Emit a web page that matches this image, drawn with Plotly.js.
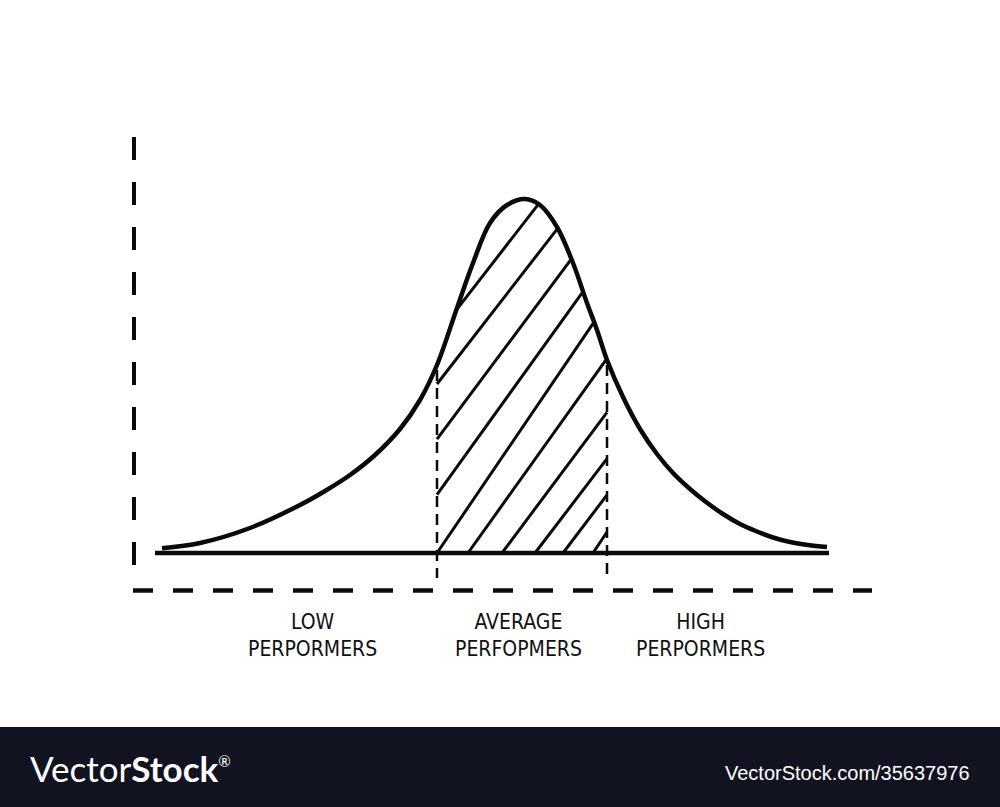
<!DOCTYPE html>
<html><head><meta charset="utf-8">
<script src="https://cdn.plot.ly/plotly-3.0.1.min.js"></script>
<style>html,body{margin:0;padding:0;background:#fff}#chart{width:1000px;height:807px}</style>
</head><body><div id="chart"></div>
<script>
// ---- Data (x: score units, y: height above the baseline) ----
const curveX = [162,200,250,300,325,350,375,400,420,437,457,473,490,507,525,540,557,573,587,597,607,623,640,657,673,690,706,723,740,757,773,790,808,827];
const curveY = [4.7,10,25,48,62,78,98,124,153,188,245,290,330,348,354,348,326,290,250,223,193,156,124,99,80,64,51,39,29,21.5,15.5,11,8,6];

// group boundaries (dashed dividers)
const dividerX = [437, 607];

// hatch lines in the average group: where each would meet the baseline, and its slope
const hatchBaseX = [268,306,352,395,437,468,502,535,563,593];
const hatchSlope = [1.29,1.29,1.34,1.39,1.47,1.40,1.34,1.31,1.32,1.5];

// group labels
const groupTop    = ["LOW", "AVERAGE", "HIGH"];
const groupBottom = ["PERPORMERS", "PERFOPMERS", "PERPORMERS"];
const groupX      = [312, 518, 700];

// frame extents
const baselineX = [155, 829];
const xAxisX = [133, 872], xAxisY = -37.5;
const yAxisX = 134, yAxisY = [416, -12];
const dividerBottom = -25;

// ---- helpers ----
function curveAt(x) {
  if (x <= curveX[0]) return curveY[0];
  for (let i = 1; i < curveX.length; i++) {
    if (x <= curveX[i]) {
      const t = (x - curveX[i-1]) / (curveX[i] - curveX[i-1]);
      return curveY[i-1] + t * (curveY[i] - curveY[i-1]);
    }
  }
  return curveY[curveY.length-1];
}

// clip each hatch line to the region between dividers, above baseline, below curve
const hx = [], hy = [];
hatchBaseX.forEach((x0, i) => {
  const s = hatchSlope[i];
  let first = null, last = null;
  for (let x = dividerX[0]; x <= dividerX[1] + 1e-9; x += 0.25) {
    const y = s * (x - x0);
    if (y >= 0 && y <= curveAt(x)) {
      if (first === null) first = x;
      last = x;
    }
  }
  if (first !== null) {
    hx.push(first, last, null);
    hy.push(s * (first - x0), s * (last - x0), null);
  }
});

const black = '#0a0a0a';
const traces = [
  {x: hx, y: hy, mode: 'lines', line: {color: black, width: 3}, hoverinfo: 'skip'},
  ...dividerX.map(dx => ({
    x: [dx, dx], y: [curveAt(dx) - 5, dividerBottom], mode: 'lines',
    line: {color: black, width: 2.5, dash: '11px,7px'}, hoverinfo: 'skip'
  })),
  {x: baselineX, y: [0, 0], mode: 'lines', line: {color: black, width: 4.5}, hoverinfo: 'skip'},
  {x: xAxisX, y: [xAxisY, xAxisY], mode: 'lines', line: {color: black, width: 4.5, dash: '20px,20px'}, hoverinfo: 'skip'},
  {x: [yAxisX, yAxisX], y: yAxisY, mode: 'lines', line: {color: black, width: 4, dash: '23px,22px'}, hoverinfo: 'skip'},
  {x: curveX, y: curveY, mode: 'lines', line: {color: black, width: 4.5, shape: 'spline', smoothing: 1}, hoverinfo: 'skip'}
];

const labelFont = {family: '"DejaVu Sans Condensed", "Liberation Sans", Arial, sans-serif', size: 21, color: '#111'};
const annotations = groupTop.map((t, i) => ({
  x: groupX[i], y: -82, xref: 'x', yref: 'y', showarrow: false,
  text: t + '<br>' + groupBottom[i], align: 'center', xanchor: 'center', yanchor: 'middle',
  font: labelFont
}));

// watermark banner text
annotations.push(
  {x: 28, y: (807 - 768) / 807, xref: 'x', yref: 'paper', showarrow: false, xanchor: 'left', yanchor: 'middle',
   text: 'Vector<b>Stock</b><sup><span style="font-size:15px">®</span></sup>',
   font: {family: 'Lato, "Open Sans", sans-serif', size: 35, color: '#ffffff'}},
  {x: 972, y: (807 - 773) / 807, xref: 'x', yref: 'paper', showarrow: false, xanchor: 'right', yanchor: 'middle',
   text: 'VectorStock.com/35637976', font: {family: '"Liberation Sans", Arial, sans-serif', size: 20, color: '#ffffff'}}
);

const layout = {
  width: 1000, height: 807,
  margin: {l: 0, r: 0, t: 0, b: 0},
  paper_bgcolor: '#ffffff', plot_bgcolor: '#ffffff',
  showlegend: false,
  xaxis: {range: [0, 1000], visible: false, fixedrange: true},
  yaxis: {range: [-254, 553], visible: false, fixedrange: true},
  shapes: [{type: 'rect', xref: 'paper', yref: 'paper', x0: 0, x1: 1, y0: 0, y1: 80/807,
            fillcolor: '#121321', line: {width: 0}, layer: 'below'}],
  annotations: annotations
};

Plotly.newPlot('chart', traces, layout, {staticPlot: true, displayModeBar: false});
</script>
</body></html>
